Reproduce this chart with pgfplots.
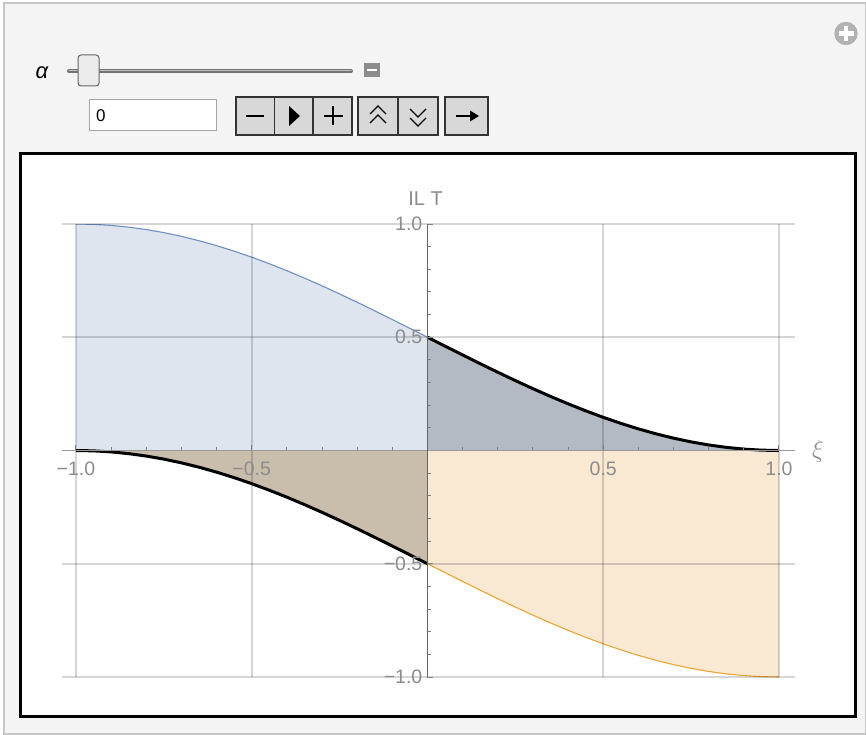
\documentclass[border=0pt]{standalone}
\usepackage{fontspec}
\setmainfont{Liberation Sans}
\usepackage{pgfplots}
\pgfplotsset{compat=1.18}
\definecolor{panelbg}{RGB}{244,244,244}
\definecolor{panelborder}{RGB}{198,198,198}
\definecolor{btn}{RGB}{216,216,216}
\definecolor{bluefill}{RGB}{222,229,239}
\definecolor{grayfill}{RGB}{179,186,196}
\definecolor{tanfill}{RGB}{201,189,171}
\definecolor{orangefill}{RGB}{249,233,211}
\definecolor{blueline}{RGB}{111,143,197}
\definecolor{orangeline}{RGB}{235,165,48}
\definecolor{labgray}{RGB}{140,140,140}
\definecolor{axgray}{RGB}{110,110,110}

\pgfplotstableread{
x y
-1 1.0
-0.95 0.99846
-0.9 0.99384
-0.85 0.98618
-0.8 0.97553
-0.75 0.96194
-0.7 0.94550
-0.65 0.92632
-0.6 0.90451
-0.55 0.88020
-0.5 0.85355
-0.45 0.82472
-0.4 0.79389
-0.35 0.76125
-0.3 0.72700
-0.25 0.69134
-0.2 0.65451
-0.15 0.61672
-0.1 0.57822
-0.05 0.53923
0 0.5
}\upleft
\pgfplotstableread{
x y
0 0.5
0.05 0.46077
0.1 0.42178
0.15 0.38328
0.2 0.34549
0.25 0.30866
0.3 0.27300
0.35 0.23875
0.4 0.20611
0.45 0.17528
0.5 0.14645
0.55 0.11980
0.6 0.09549
0.65 0.07368
0.7 0.05450
0.75 0.03806
0.8 0.02447
0.85 0.01382
0.9 0.00616
0.95 0.00154
1 0
}\upright
\pgfplotstableread{
x y
-1 0
-0.95 -0.00154
-0.9 -0.00616
-0.85 -0.01382
-0.8 -0.02447
-0.75 -0.03806
-0.7 -0.05450
-0.65 -0.07368
-0.6 -0.09549
-0.55 -0.11980
-0.5 -0.14645
-0.45 -0.17528
-0.4 -0.20611
-0.35 -0.23875
-0.3 -0.27300
-0.25 -0.30866
-0.2 -0.34549
-0.15 -0.38328
-0.1 -0.42178
-0.05 -0.46077
0 -0.5
}\lowleft
\pgfplotstableread{
x y
0 -0.5
0.05 -0.53923
0.1 -0.57822
0.15 -0.61672
0.2 -0.65451
0.25 -0.69134
0.3 -0.72700
0.35 -0.76125
0.4 -0.79389
0.45 -0.82472
0.5 -0.85355
0.55 -0.88020
0.6 -0.90451
0.65 -0.92632
0.7 -0.94550
0.75 -0.96194
0.8 -0.97553
0.85 -0.98618
0.9 -0.99384
0.95 -0.99846
1 -1.0
}\lowright

\begin{document}
\begin{tikzpicture}
\useasboundingbox (0,0) rectangle (866pt,-735pt);
\fill[white] (0,0) rectangle (866pt,-735pt);
\filldraw[fill=panelbg, draw=panelborder, line width=1.5pt] (4pt,-3pt) rectangle (866pt,-734pt);
\filldraw[fill=white, draw=black, line width=3pt] (20.5pt,-154pt) rectangle (855.5pt,-716pt);

\begin{scope}[x=1pt,y=-1pt]
% alpha label and slider
\node at (42,73) {\fontsize{22}{22}\selectfont\itshape α};
\draw[line width=4pt, color=black!55, line cap=round] (69,71) -- (351,71);
\draw[line width=1.5pt, color=black!25, line cap=round] (69,70.5) -- (351,70.5);
\filldraw[fill=black!8, draw=black!60, rounded corners=3pt, line width=1pt] (78,55) rectangle (99,86);
\fill[black!45] (364,63) rectangle (380,77);
\fill[white] (367,69) rectangle (377,71.5);
% input field
\filldraw[fill=white, draw=black!35, line width=1pt] (89,100) rectangle (216,131);
\node[anchor=west, inner sep=0pt] at (96,116) {\fontsize{17}{17}\selectfont 0};
% buttons
\filldraw[fill=btn, draw=black!80, line width=1.3pt] (236,97) rectangle (352,135);
\draw[black!80, line width=1.3pt] (274.5,97) -- (274.5,135) (313,97) -- (313,135);
\filldraw[fill=btn, draw=black!80, line width=1.3pt] (358,97) rectangle (438,135);
\draw[black!80, line width=1.3pt] (398,97) -- (398,135);
\filldraw[fill=btn, draw=black!80, line width=1.3pt] (445,97) rectangle (488,135);
\draw[line width=1.6pt] (246,116) -- (264,116);
\fill (289,106) -- (300,116) -- (289,126) -- cycle;
\draw[line width=1.4pt] (323.5,116) -- (342.5,116) (333,106.5) -- (333,125.5);
\draw[line width=1.2pt] (370,114) -- (378,106) -- (386,114) (370,123) -- (378,115) -- (386,123);
\draw[line width=1.2pt] (410,109) -- (418,117) -- (426,109) (410,118) -- (418,126) -- (426,118);
\draw[line width=1.8pt] (456,116) -- (472,116);
\fill (479,116) -- (470,110.5) -- (470,121.5) -- cycle;
% plus icon
\fill[black!30] (846,33.5) circle (11.7);
\fill[white] (843.8,26) rectangle (848.2,41);
\fill[white] (838.5,31.3) rectangle (853.5,35.7);
\end{scope}

\begin{axis}[
  at={(61.9pt,-677pt)}, anchor=south west,
  scale only axis, width=732.9pt, height=453pt,
  xmin=-1.04, xmax=1.045, ymin=-1, ymax=1,
  axis lines=middle, axis line style={-, line width=1.3pt},
  x axis line style={color=black!40},
  y axis line style={color=black!60},
  xtick={-1,-0.5,0.5,1}, xticklabels={−1.0,−0.5,0.5,1.0},
  ytick={-1,-0.5,0.5,1}, yticklabels={−1.0,−0.5,0.5,1.0},
  minor xtick={-0.9,-0.8,-0.7,-0.6,-0.4,-0.3,-0.2,-0.1,0.1,0.2,0.3,0.4,0.6,0.7,0.8,0.9},
  minor ytick={-0.9,-0.8,-0.7,-0.6,-0.4,-0.3,-0.2,-0.1,0.1,0.2,0.3,0.4,0.6,0.7,0.8,0.9},
  grid=major, grid style={black, opacity=0.16, line width=1.8pt},
  tick align=inside, major tick length=6pt, minor tick length=4pt,
  tick style={color=black!50, line width=1pt},
  ticklabel style={font=\fontsize{19.5}{19.5}\selectfont, text=labgray},
  xticklabel style={anchor=north, inner sep=0pt, yshift=-11pt},
  yticklabel style={anchor=east, inner sep=0pt, xshift=-5pt},
  axis on top,
]
\addplot[fill=bluefill, draw=none] table[x=x,y=y] {\upleft} \closedcycle;
\addplot[fill=grayfill, draw=none] table[x=x,y=y] {\upright} \closedcycle;
\addplot[fill=tanfill, draw=none] table[x=x,y=y] {\lowleft} \closedcycle;
\addplot[fill=orangefill, draw=none] table[x=x,y=y] {\lowright} \closedcycle;
\addplot[blueline, line width=1.1pt] table[x=x,y=y] {\upleft};
\addplot[orangeline, line width=1.1pt] table[x=x,y=y] {\lowright};
\addplot[black, line width=3pt] table[x=x,y=y] {\upright};
\addplot[black, line width=3pt] table[x=x,y=y] {\lowleft};
\end{axis}

\node[text=labgray] at (425.5pt,-199pt) {\fontsize{20}{20}\selectfont IL T};
\node[text=labgray] at (818pt,-451pt) {\fontsize{24}{24}\selectfont$\xi$};
\end{tikzpicture}
\end{document}
